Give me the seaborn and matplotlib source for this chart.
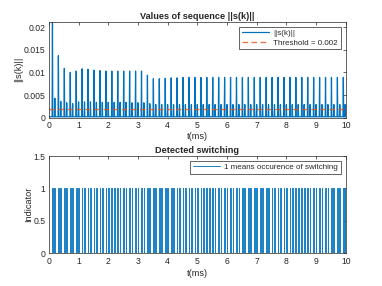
import numpy as np
import pandas as pd
import matplotlib
matplotlib.use("Agg")
import matplotlib.pyplot as plt
from matplotlib.ticker import FuncFormatter
import seaborn as sns

# spike times (ms) and peak values of ||s(k)||
big_t = [0.12, 0.32, 0.52, 0.72, 0.92, 1.12, 1.32, 1.52, 1.72, 1.92,
         2.12, 2.32, 2.52, 2.72, 2.92, 3.12, 3.32, 3.52, 3.72, 3.92,
         4.12, 4.32, 4.52, 4.72, 4.92, 5.12, 5.32, 5.52, 5.72, 5.92,
         6.12, 6.32, 6.52, 6.72, 6.92, 7.12, 7.32, 7.52, 7.72, 7.92,
         8.12, 8.32, 8.52, 8.72, 8.92, 9.12, 9.32, 9.52, 9.72, 9.92]
big_h = [0.0212, 0.0137, 0.0109, 0.0100, 0.0103, 0.0108, 0.0107, 0.0105, 0.0104, 0.0103,
         0.0103, 0.0103, 0.0103, 0.0103, 0.0103, 0.0103, 0.0094, 0.0086, 0.0086, 0.0087,
         0.0088, 0.0088, 0.0089, 0.0089, 0.0089, 0.0089, 0.0089, 0.0089, 0.0089, 0.0089,
         0.0089, 0.0089, 0.0089, 0.0089, 0.0089, 0.0089, 0.0089, 0.0089, 0.0089, 0.0089,
         0.0089, 0.0089, 0.0089, 0.0089, 0.0089, 0.0089, 0.0089, 0.0089, 0.0089, 0.0089]
small_t = [0.20, 0.40, 0.60, 0.80, 1.00, 1.20, 1.40, 1.60, 1.80, 2.00,
           2.20, 2.40, 2.60, 2.80, 3.00, 3.20, 3.40, 3.60, 3.80, 4.00,
           4.20, 4.40, 4.60, 4.80, 5.00, 5.20, 5.40, 5.60, 5.80, 6.00,
           6.20, 6.40, 6.60, 6.80, 7.00, 7.20, 7.40, 7.60, 7.80, 8.00,
           8.20, 8.40, 8.60, 8.80, 9.00, 9.20, 9.40, 9.60, 9.80, 9.98]
small_h = [0.0043, 0.0036, 0.0033, 0.0031, 0.0035, 0.0035, 0.0035, 0.0034, 0.0034, 0.0034,
           0.0034, 0.0034, 0.0034, 0.0033, 0.0033, 0.0033, 0.0031, 0.0029, 0.0029, 0.0029,
           0.0029, 0.0029, 0.0029, 0.0029, 0.0029, 0.0029, 0.0029, 0.0029, 0.0029, 0.0029,
           0.0029, 0.0029, 0.0029, 0.0029, 0.0029, 0.0029, 0.0029, 0.0029, 0.0029, 0.0029,
           0.0029, 0.0029, 0.0029, 0.0029, 0.0029, 0.0029, 0.0029, 0.0029, 0.0029, 0.0029]
base_level = 0.0002
threshold = 0.002

spikes = pd.DataFrame({"t": big_t + small_t, "h": big_h + small_h}).sort_values("t")

# build the sequence as narrow peaks on a small baseline
half = 0.012
xs, ys = [0.0], [base_level]
for t, h in zip(spikes["t"], spikes["h"]):
    xs += [t - half, t, t + half]
    ys += [base_level, h, base_level]
xs.append(10.0)
ys.append(base_level)
seq = pd.DataFrame({"t": xs, "s": ys})

# indicator: 1 where the peak passes the threshold
det = spikes[spikes["h"] > threshold]
w = 0.012
ix, iy = [0.0], [0.0]
for t in det["t"]:
    ix += [t - w, t - w, t + w, t + w]
    iy += [0, 1, 1, 0]
ix.append(10.0)
iy.append(0)
ind = pd.DataFrame({"t": ix, "v": iy})

sns.set_style("white")
plt.rcParams["font.family"] = ["Liberation Sans", "DejaVu Sans"]
blue = "#0072BD"
orange = "#D95319"
axc = "#262626"

fig = plt.figure(figsize=(3.82, 2.86), dpi=100)
ax1 = fig.add_axes([0.128, 0.5885, 0.777, 0.3355])
ax2 = fig.add_axes([0.128, 0.1143, 0.777, 0.3402])

sns.lineplot(data=seq, x="t", y="s", ax=ax1, sort=False, estimator=None,
             color=blue, lw=0.9, label="||s(k)||")
ax1.axhline(threshold, color=orange, lw=1.0, ls=(0, (4, 2.5)), alpha=0.8,
            label="Threshold = 0.002")
ax1.set_xlim(0, 10)
ax1.set_ylim(0, 0.0212)
ax1.set_yticks([0, 0.005, 0.01, 0.015, 0.02])
ax1.set_xticks(range(0, 11))
ax1.yaxis.set_major_formatter(FuncFormatter(lambda v, p: "%g" % v))
ax1.set_title("Values of sequence ||s(k)||", fontsize=6.6, fontweight="bold", pad=2)
ax1.set_xlabel("t(ms)", fontsize=6.6, labelpad=1.5)
ax1.set_ylabel("||s(k)||", fontsize=6.6, labelpad=0.5)

sns.lineplot(data=ind, x="t", y="v", ax=ax2, sort=False, estimator=None,
             color=blue, lw=0.7, alpha=0.9, label="1 means occurence of switching")
ax2.set_xlim(0, 10)
ax2.set_ylim(0, 1.5)
ax2.set_yticks([0, 0.5, 1, 1.5])
ax2.set_xticks(range(0, 11))
ax2.yaxis.set_major_formatter(FuncFormatter(lambda v, p: "%g" % v))
ax2.set_title("Detected switching", fontsize=6.6, fontweight="bold", pad=2)
ax2.set_xlabel("t(ms)", fontsize=6.6, labelpad=2.5)
ax2.set_ylabel("Indicator", fontsize=6.6, labelpad=0.5)

for ax in (ax1, ax2):
    for sp in ax.spines.values():
        sp.set_color(axc)
        sp.set_linewidth(0.5)
    ax.tick_params(direction="in", length=2.5, width=0.5, labelsize=6.2,
                   colors=axc, top=True, right=True, pad=2.5)
    leg = ax.legend(loc="upper right", fontsize=5.8, frameon=True, fancybox=False,
                    framealpha=1, edgecolor=axc, handlelength=3.4,
                    borderpad=0.35, labelspacing=0.25, handletextpad=0.5,
                    borderaxespad=0.6)
    leg.get_frame().set_linewidth(0.5)

fig.savefig("out.png", dpi=100)
